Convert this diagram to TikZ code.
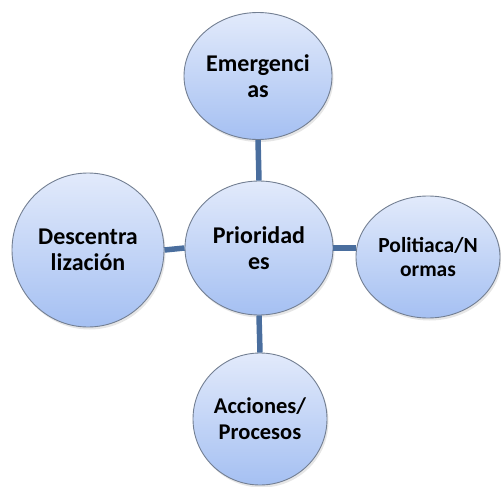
\documentclass[tikz,border=0pt]{standalone}
\usepackage{fontspec}
\setmainfont{Carlito}
\usetikzlibrary{shapes.geometric,shadows}
\definecolor{ctop}{HTML}{E2EAFB}
\definecolor{cbot}{HTML}{A5C0F2}
\definecolor{cborder}{HTML}{737F92}
\definecolor{cline}{HTML}{4A6E9E}
\tikzset{
  bubble/.style={ellipse, draw=cborder, line width=0.9pt, top color=ctop, bottom color=cbot,
    align=center, inner sep=0pt, font=\bfseries\fontsize{24}{26}\selectfont,
    drop shadow={opacity=0.2, shadow xshift=1.5pt, shadow yshift=-2.5pt}},
  small/.style={font=\bfseries\fontsize{21.5}{24}\selectfont},
  mid/.style={font=\bfseries\fontsize{22.5}{26}\selectfont},
  link/.style={draw=cline, line width=5.5pt}
}
\begin{document}
\begin{tikzpicture}[x=1pt,y=-1pt]
\useasboundingbox (0,0) rectangle (501,487);
\node[bubble, minimum width=148pt, minimum height=134pt] (c) at (259,248) {Prioridad\\es};
\node[bubble, minimum width=148pt, minimum height=127pt] (t) at (258,76) {Emergenci\\as};
\node[bubble, minimum width=152pt, minimum height=154pt] (l) at (88,250) {Descentra\\lización};
\node[bubble, small, minimum width=144pt, minimum height=122pt] (r) at (428,257) {Politiaca/N\\ormas};
\node[bubble, mid, minimum width=134pt, minimum height=132pt] (b) at (260,419) {Acciones/\\Procesos};
\draw[link] (c.north) -- (t.south);
\draw[link] (c.west) -- (l.east);
\draw[link] (c.east) -- (r.west |- c.east);
\draw[link] (c.south) -- (b.north);
\end{tikzpicture}
\end{document}
